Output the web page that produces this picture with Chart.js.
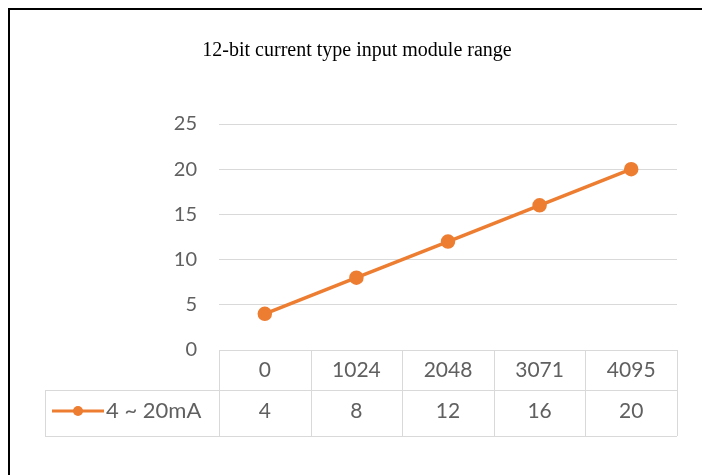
<!DOCTYPE html>
<html>
<head>
<meta charset="utf-8">
<script src="https://cdn.jsdelivr.net/npm/chart.js@4.4.1/dist/chart.umd.min.js"></script>
<style>
html,body{margin:0;padding:0;background:#fff;}
#wrap{position:relative;width:702px;height:475px;overflow:hidden;}
#frame{position:absolute;left:8px;top:8px;width:800px;height:600px;border-left:2px solid #000;border-top:2px solid #000;}
canvas{position:absolute;left:0;top:0;}
</style>
</head>
<body>
<div id="wrap"><div id="frame"></div><canvas id="c" width="702" height="475"></canvas></div>
<script>
const titleText = '12-bit current type input module range';
const categories = ['0', '1024', '2048', '3071', '4095'];
const seriesName = '4 ~ 20mA';
const seriesValues = [4, 8, 12, 16, 20];
const yTicks = [0, 5, 10, 15, 20, 25];

const ORANGE = '#ED7D31';
const GRID = '#d9d9d9';
const TEXT = '#606060';
const FONT = 'Lato, "Open Sans", sans-serif';

const titlePlugin = {
  id: 'customTitle',
  afterDraw(chart) {
    const ctx = chart.ctx;
    ctx.save();
    ctx.fillStyle = '#000';
    ctx.font = '20px "Liberation Serif", "Times New Roman", serif';
    ctx.textAlign = 'center';
    ctx.textBaseline = 'middle';
    ctx.fillText(titleText, 357, 51);
    ctx.restore();
  }
};

const tablePlugin = {
  id: 'dataTable',
  afterDraw(chart) {
    const ctx = chart.ctx;
    const xs = chart.scales.x;
    const ys = chart.scales.y;
    const ca = chart.chartArea;
    const top = ys.getPixelForValue(0);
    const rowH1 = 40, rowH2 = 46;
    const mid = top + rowH1, bot = mid + rowH2;
    const legLeft = 45;
    const n = categories.length;
    const colW = (ca.right - ca.left) / n;
    ctx.save();
    ctx.strokeStyle = GRID;
    ctx.lineWidth = 1;
    ctx.beginPath();
    ctx.moveTo(ca.left, Math.round(top) + 0.5); ctx.lineTo(ca.right, Math.round(top) + 0.5);
    ctx.moveTo(legLeft, Math.round(mid) + 0.5); ctx.lineTo(ca.right, Math.round(mid) + 0.5);
    ctx.moveTo(legLeft, Math.round(bot) + 0.5); ctx.lineTo(ca.right, Math.round(bot) + 0.5);
    ctx.moveTo(legLeft + 0.5, mid); ctx.lineTo(legLeft + 0.5, bot);
    for (let i = 0; i <= n; i++) {
      const x = Math.round(ca.left + i * colW) + 0.5;
      ctx.moveTo(x, top); ctx.lineTo(x, bot);
    }
    ctx.stroke();
    ctx.fillStyle = TEXT;
    ctx.font = '21px ' + FONT;
    ctx.textAlign = 'center';
    ctx.textBaseline = 'middle';
    categories.forEach((c, i) => {
      const x = xs.getPixelForValue(i);
      ctx.fillText(c, x, top + rowH1 / 2);
      ctx.fillText(String(seriesValues[i]), x, mid + rowH2 / 2 - 2);
    });
    const ly = mid + rowH2 / 2 - 2;
    ctx.strokeStyle = ORANGE;
    ctx.lineWidth = 3;
    ctx.beginPath();
    ctx.moveTo(52, ly); ctx.lineTo(104, ly);
    ctx.stroke();
    ctx.fillStyle = ORANGE;
    ctx.beginPath();
    ctx.arc(78, ly, 5, 0, Math.PI * 2);
    ctx.fill();
    ctx.fillStyle = TEXT;
    ctx.textAlign = 'left';
    ctx.font = '22px ' + FONT;
    ctx.fillText(seriesName, 106, ly);
    ctx.restore();
  }
};

new Chart(document.getElementById('c'), {
  type: 'line',
  data: {
    labels: categories,
    datasets: [{
      label: seriesName,
      data: seriesValues,
      borderColor: ORANGE,
      backgroundColor: ORANGE,
      borderWidth: 3.5,
      pointRadius: 5.5,
      pointHoverRadius: 5.5,
      pointBackgroundColor: ORANGE,
      pointBorderColor: ORANGE,
      tension: 0
    }]
  },
  options: {
    responsive: false,
    animation: false,
    devicePixelRatio: 1,
    layout: { padding: { left: 0, right: 25, top: 124, bottom: 125 } },
    plugins: {
      legend: { display: false },
      tooltip: { enabled: false },
      title: { display: false }
    },
    scales: {
      x: {
        type: 'category',
        offset: true,
        grid: { display: false, drawTicks: false },
        border: { display: false },
        ticks: { display: false }
      },
      y: {
        min: 0, max: 25,
        afterBuildTicks(scale) { scale.ticks = yTicks.map(v => ({ value: v })); },
        afterFit(scale) { scale.width = 219; },
        grid: { color: GRID, lineWidth: 1, drawTicks: false },
        border: { display: false },
        ticks: { color: TEXT, font: { family: FONT, size: 20 }, padding: 22 }
      }
    }
  },
  plugins: [titlePlugin, tablePlugin]
});
</script>
</body>
</html>
